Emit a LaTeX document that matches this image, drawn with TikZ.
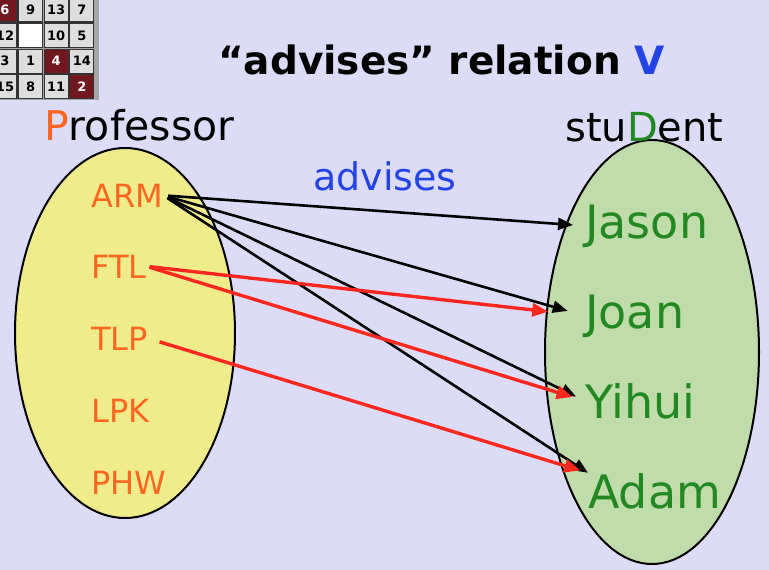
\documentclass[tikz,border=0pt]{standalone}
\usepackage{fontspec}
\setmainfont{DejaVu Sans}
\usetikzlibrary{arrows.meta, positioning}

\definecolor{slidebg}{RGB}{220,220,248}
\definecolor{profyellow}{RGB}{240,236,140}
\definecolor{studgreen}{RGB}{192,220,170}
\definecolor{proforange}{RGB}{255,102,34}
\definecolor{studtext}{RGB}{34,136,34}
\definecolor{relblue}{RGB}{34,68,230}
\definecolor{tilegray}{RGB}{222,222,222}
\definecolor{tilemaroon}{RGB}{112,24,30}
\definecolor{arrowred}{RGB}{255,40,30}

\tikzset{
  tile/.style={draw=black!80, line width=1.3pt, minimum size=24pt, inner sep=0pt,
               font=\fontsize{13}{13}\selectfont\bfseries},
  tilelight/.style={tile, fill=tilegray},
  tiledark/.style={tile, fill=tilemaroon, text=white},
  tileblank/.style={tile, fill=white},
  prof/.style={anchor=base west, inner sep=0pt, text=proforange,
               font=\fontsize{32}{32}\selectfont},
  stud/.style={anchor=base west, inner sep=0pt, text=studtext,
               font=\fontsize{46}{46}\selectfont},
  heading/.style={anchor=base west, inner sep=0pt, font=\fontsize{39}{39}\selectfont},
  advblack/.style={line width=2.6pt, -{Triangle[length=15pt,width=12pt]}},
  advred/.style={line width=3.4pt, arrowred, -{Triangle[length=16pt,width=13pt]}},
}

\begin{document}
\begin{tikzpicture}[x=1pt, y=-1pt]
  \fill[slidebg] (0,0) rectangle (769,570);
  \useasboundingbox (0,0) rectangle (769,570);

  % puzzle tiles in the corner
  \fill[black!35] (-10,-5) rectangle (99,100);
  \foreach \n/\kind [count=\k from 0] in
    {6/tiledark, 9/tilelight, 13/tilelight, 7/tilelight,
     12/tilelight, /tileblank, 10/tilelight, 5/tilelight,
     3/tilelight, 1/tilelight, 4/tiledark, 14/tilelight,
     15/tilelight, 8/tilelight, 11/tilelight, 2/tiledark}
  {
    \pgfmathtruncatemacro{\col}{mod(\k,4)}
    \pgfmathtruncatemacro{\row}{div(\k,4)}
    \node[\kind] (tile\k) at (5+25.6*\col, 10+25.6*\row) {\n};
  }

  % the two sets
  \draw[line width=2pt, fill=profyellow] (125,333) ellipse (110pt and 185pt);
  \draw[line width=2pt, fill=studgreen] (652,352) ellipse (107pt and 212pt);

  % titles
  \node[heading] (title) at (218,74) {\textbf{“advises” relation \textcolor{relblue}{V}}};
  \node[heading, font=\fontsize{41}{41}\selectfont] (profset) at (44,140)
    {\textcolor{proforange}{P}rofessor};
  \node[heading, font=\fontsize{40}{40}\selectfont] (studset) at (565,141)
    {stu\textcolor{studtext}{D}ent};
  \node[heading, text=relblue, font=\fontsize{38}{38}\selectfont] (advlabel) at (313,190) {advises};

  % professors
  \node[prof] (arm) at (91,207) {ARM};
  \node[prof] (ftl) at (91,278) {FTL};
  \node[prof] (tlp) at (91,350) {TLP};
  \node[prof] (lpk) at (91,422) {LPK};
  \node[prof] (phw) at (91,494) {PHW};

  % students
  \node[stud] (jason) at (585,238) {Jason};
  \node[stud] (joan) at (585,328) {Joan};
  \node[stud] (yihui) at (585,418) {Yihui};
  \node[stud] (adam) at (588,508) {Adam};

  % the relation
  \draw[advblack, shorten <=5pt, shorten >=12pt] (arm.east) -- (jason.west);
  \draw[advblack, shorten <=5pt, shorten >=18pt] (arm.east) -- (joan.west);
  \draw[advblack, shorten <=5pt, shorten >=10pt] (arm.east) -- (yihui.west);
  \draw[advblack, shorten <=5pt] (arm.east) -- (adam.north west);
  \draw[advred, shorten <=3pt, shorten >=37pt] (ftl.east) -- (joan.west);
  \draw[advred, shorten <=3pt, shorten >=13pt] (ftl.east) -- (yihui.west);
  \draw[advred, shorten <=12pt, shorten >=8pt] (tlp.east) -- (adam.north west);
\end{tikzpicture}
\end{document}
